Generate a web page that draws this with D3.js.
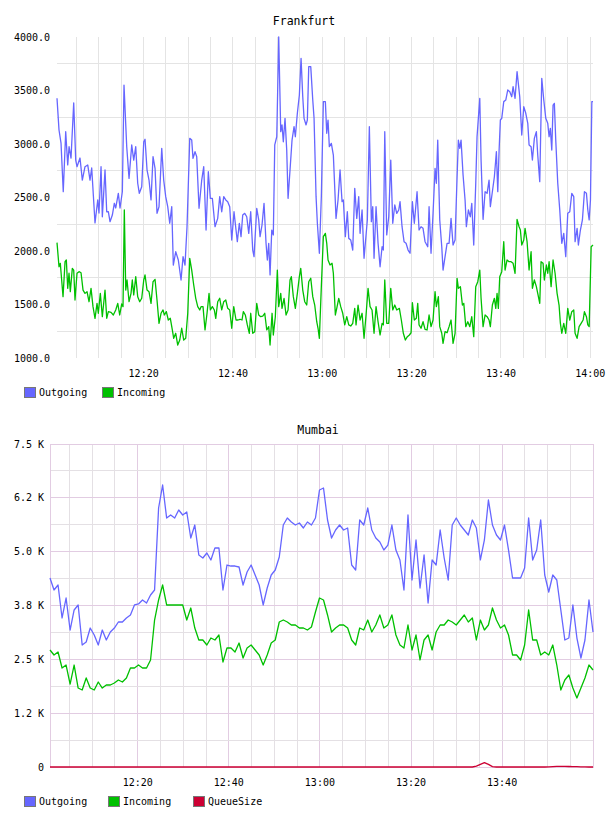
<!DOCTYPE html>
<html>
<head>
<meta charset="utf-8">
<script src="https://cdn.jsdelivr.net/npm/d3@7"></script>
<style>
body { margin: 0; background: #fff; }
svg text { font-family: "DejaVu Sans Mono", monospace; fill: #000; }
</style>
</head>
<body>
<div id="VizBox"></div>
<script>

// ---- Frankfurt (times are minutes after 12:00) ----
var frankOutTime = [0.6,1.05,1.5,2.0,2.55,3.0,3.3,3.74,4.34,4.79,5.08,5.75,6.27,6.87,7.48,7.99,8.37,9.11,9.72,10.0,
  10.46,10.75,11.35,11.73,12.09,12.47,12.99,13.43,13.75,14.33,14.71,15.23,15.6,16.21,16.73,17.33,17.78,18.23,18.67,19.03,
  19.57,20.02,20.31,20.76,21.2,21.65,22.1,22.55,22.99,23.44,24.05,24.49,24.94,25.39,25.84,26.29,26.64,27.18,27.76,28.37,
  28.82,29.26,29.71,30.32,30.76,31.05,31.5,31.88,32.4,33.0,33.45,33.97,34.48,34.93,35.38,35.98,36.58,37.03,37.48,37.93,
  38.38,38.82,39.27,39.72,
  40.23,40.68,40.97,41.42,41.8,42.18,42.63,43.08,43.53,43.97,44.42,44.71,45.32,45.76,46.06,46.5,46.95,47.4,47.69,48.0,
  48.3,48.68,49.03,49.35,49.8,50.24,50.69,50.98,51.27,51.65,52.03,52.33,52.77,53.22,53.67,53.96,54.41,54.86,55.24,55.62,
  55.91,56.36,56.65,56.96,57.41,57.86,58.15,58.6,58.89,59.34,59.78,60.23,60.68,60.99,61.28,61.57,62.02,62.47,63.07,63.52,
  63.97,64.42,64.71,65.15,65.6,65.92,66.36,66.81,67.26,67.71,68.15,68.45,68.9,69.34,69.79,70.08,70.53,70.98,71.29,71.58,
  72.03,72.48,72.93,73.38,73.66,73.98,74.42,74.87,75.32,75.77,76.22,76.66,77.11,77.4,77.85,78.3,78.75,79.2,79.64,
  80.16,80.6,81.21,81.66,82.1,82.55,83.0,83.6,83.9,84.34,84.79,85.24,85.53,85.84,86.29,86.74,87.03,87.48,87.93,88.38,
  88.82,89.27,89.72,90.17,90.46,90.77,91.06,91.51,91.96,92.25,92.7,93.14,93.46,93.9,94.35,94.64,95.25,95.54,95.99,96.44,
  96.89,97.33,97.62,98.07,98.52,98.97,99.28,99.58,99.86,100.17,100.62,101.07,101.52,101.97,102.41,102.71,103.15,103.6,104.2,104.65,
  105.1,105.55,106.0,106.29,106.74,107.03,107.47,107.92,108.23,108.68,109.13,109.58,110.03,110.47,110.77,111.05,111.37,111.66,111.95,112.26,
  112.71,113.16,113.61,114.05,114.5,114.95,115.4,115.85,116.29,116.59,117.04,117.33,117.78,118.23,118.68,119.13,119.44,119.74,120.03,120.34,
  120.6];
var frankOut = [3427,3131,3009,2554,3115,2804,2975,2869,3383,2850,2788,2869,2663,2788,2804,2663,2776,2262,2477,2355,
  2788,2320,2757,2367,2367,2274,2336,2446,2402,2539,2402,2554,3551,2975,2679,2991,2850,2975,2633,2539,
  2601,3021,3044,2757,2663,2477,2882,2773,2352,2414,2960,2663,2508,2414,2259,2414,1869,1993,1916,1729,
  1947,1869,2227,3053,3037,2866,2928,2882,2399,2663,2788,2196,2741,2492,2492,2227,2305,2508,2367,2508,
  2477,2461,2414,2103,
  2367,2196,2087,2259,2134,2336,2352,2320,2165,2367,2009,1947,2399,2290,2134,2243,2446,2072,1916,2072,
  1776,2196,2150,2991,3068,4000,3115,3178,3021,3240,2944,2492,2757,3037,3162,3068,3287,3458,3801,3442,
  3240,3178,3224,3723,3723,3411,3240,2508,2259,1979,2508,3396,3396,3100,3224,2975,3006,2897,2305,2477,
  2757,2461,2477,2134,2367,2118,2103,2009,2586,2305,2508,2165,2383,1932,2150,2290,3162,2274,2414,1932,
  2414,2072,1853,2040,2009,3115,2150,2320,2850,2259,2430,2352,2383,2461,2227,2087,2072,2009,1979,
  2461,2259,2554,2196,2227,2212,2087,2040,2414,1979,2352,2773,2633,3037,2290,2040,1822,1947,2072,2072,
  2305,2056,2103,2694,3037,2960,3037,2710,2477,2227,2383,2320,2446,2056,2633,3068,3427,2850,2296,2554,
  2539,2663,2414,2554,2694,2928,2554,2944,3224,3240,3396,3411,3505,3489,3442,3536,3427,3676,3442,3084,
  3349,3287,3193,2991,2975,2850,3053,3115,2897,2648,3614,3411,3240,3193,3068,3146,2944,3364,3380,3037,
  2633,2383,2072,2165,1947,2352,2367,2539,2508,2087,2212,2056,2196,2290,2554,2539,2383,2290,2477,3396,
  3396];

var frankInTime = [0.6,1.05,1.34,1.95,2.4,2.69,3.0,3.29,3.58,4.03,4.34,4.63,5.08,5.53,5.98,6.43,6.87,7.32,7.77,8.22,
  8.66,9.11,9.56,9.85,10.3,10.75,11.35,11.73,12.09,12.7,13.21,13.75,14.2,14.64,15.09,15.38,15.67,15.99,16.28,16.73,
  17.17,17.46,17.78,18.23,18.67,19.12,19.57,20.02,20.31,20.76,21.2,21.65,22.1,22.55,22.99,23.44,23.89,24.34,24.63,25.08,
  25.52,25.97,26.42,26.73,27.18,27.63,28.08,28.52,28.97,29.42,29.87,30.32,30.76,31.21,31.66,32.11,32.56,32.85,33.29,33.74,
  34.19,34.64,34.93,35.38,35.82,36.14,36.58,37.03,37.48,37.93,38.38,38.82,39.27,39.72,40.17,
  40.68,41.13,41.58,42.02,42.32,42.76,43.21,43.66,43.97,44.42,44.87,45.32,45.76,46.21,46.66,47.11,47.56,48.0,48.3,48.75,
  49.03,49.48,49.93,50.24,50.69,50.98,51.43,51.88,52.33,52.77,53.06,53.51,53.96,54.41,54.86,55.17,55.62,56.06,56.51,56.96,
  57.41,57.86,58.3,58.75,59.04,59.34,59.78,60.23,60.68,60.99,61.28,61.73,62.18,62.47,62.92,63.23,63.68,64.12,64.57,65.02,
  65.47,65.92,66.36,66.81,67.26,67.55,68.0,68.45,68.9,69.34,69.79,70.24,70.69,71.13,71.58,72.03,72.48,72.93,73.38,73.66,
  73.98,74.42,74.87,75.32,75.77,76.22,76.66,77.25,77.69,78.14,78.59,79.04,79.49,79.87,
  80.16,80.6,81.05,81.36,81.66,82.1,82.55,83.0,83.45,83.9,84.34,84.79,85.24,85.53,85.98,86.29,86.74,87.03,87.48,87.93,
  88.38,88.82,89.27,89.72,90.17,90.46,90.91,91.36,91.67,92.12,92.57,93.02,93.46,93.9,94.35,94.8,95.25,95.54,95.99,96.44,
  96.89,97.33,97.62,98.07,98.52,98.83,99.12,99.41,99.72,100.17,100.62,100.91,101.36,101.81,102.26,102.71,103.15,103.6,104.05,104.34,
  104.65,105.1,105.39,105.84,106.29,106.74,107.03,107.47,107.92,108.23,108.68,108.97,109.42,109.71,110.16,110.47,110.77,111.22,111.66,112.11,
  112.56,113.0,113.3,113.61,114.05,114.5,114.95,115.4,115.85,116.29,116.59,117.04,117.49,117.94,118.39,118.68,119.13,119.44,119.74,120.19,
  120.6];
var frankIn = [2078,1853,1885,1573,1900,1916,1651,1792,1620,1838,1822,1542,1792,1807,1797,1635,1604,1620,1526,1651,
  1480,1371,1511,1418,1604,1386,1635,1371,1433,1427,1402,1449,1511,1402,1505,1480,2383,1635,1729,1526,
  1604,1729,1589,1760,1573,1526,1558,1729,1776,1635,1620,1511,1713,1735,1542,1324,1418,1449,1402,1433,
  1355,1371,1262,1184,1231,1121,1168,1278,1168,1184,1418,1932,1822,1682,1558,1480,1449,1480,1480,1262,
  1418,1604,1449,1480,1449,1371,1526,1558,1449,1526,1542,1464,1449,1278,1480,
  1355,1355,1362,1355,1433,1402,1309,1231,1418,1231,1246,1511,1402,1386,1392,1418,1262,1293,1121,1418,
  1215,1386,1822,1480,1604,1464,1558,1402,1449,1729,1760,1573,1464,1604,1760,1838,1635,1526,1495,1713,
  1745,1573,1495,1339,1278,1184,1667,2134,2165,2072,1916,1869,1885,1792,1402,1464,1558,1480,1418,1309,
  1386,1309,1299,1324,1464,1309,1495,1355,1418,1184,1402,1651,1480,1449,1231,1480,1339,1215,1324,1309,
  1729,1324,1324,1651,1449,1495,1449,1464,1355,1231,1168,1199,1215,1236,
  1517,1355,1371,1511,1309,1278,1339,1268,1262,1402,1293,1355,1620,1480,1573,1293,1231,1137,1246,1236,
  1293,1355,1137,1231,1745,1651,1667,1495,1511,1293,1339,1293,1386,1199,1667,1713,1822,1558,1293,1402,
  1386,1355,1293,1495,1558,1464,1604,1464,1760,1807,2087,1822,1916,1900,1900,1885,1792,2296,2227,2196,
  2056,2103,2212,2087,1822,1993,1651,1729,1667,1604,1511,1900,1885,1729,1869,1792,1900,1667,1916,1792,
  1604,1495,1324,1231,1324,1231,1464,1355,1433,1449,1231,1184,1293,1324,1355,1433,1386,1309,1293,2040,
  2056];

var frankYTicks = [1000, 1500, 2000, 2500, 3000, 3500, 4000];
var frankYGrid = [1250, 1750, 2250, 2750, 3250, 3750];

// ---- Mumbai (one sample per step across the window) ----
var mumbaiOut = [4388,4110,4226,3460,3924,3181,3646,3762,2833,2902,3227,3065,2833,3181,2949,3135,3227,3367,3367,3460,
  3530,3762,3785,3878,3808,3994,4110,6014,6548,5782,5852,5782,5968,5852,5921,5317,5619,4923,4853,4969,
  4807,5085,5085,4110,4690,4667,4667,4644,4226,4528,4690,4458,4226,3762,4156,4458,4574,4876,5619,5782,
  5689,5619,5666,5550,5689,5619,5782,6432,6478,5735,5317,5503,5619,5503,5550,4690,4574,5735,5619,6014,
  5503,5317,5224,5038,5154,5619,5038,4807,4110,5852,4342,5271,4156,4923,3808,4807,4690,5503,4853,4342,
  5619,5782,5619,5503,5387,5735,5550,4807,5271,6200,5619,5387,5271,5619,5038,4388,4388,4388,4621,5782,
  4807,5038,5735,4458,4063,4458,4342,3646,2949,2995,3762,2995,2531,2949,3878,3135];
var mumbaiIn = [2717,2601,2670,2299,2368,1927,2368,1834,1788,2067,1834,1788,1974,1834,1904,1904,1950,2020,1974,2067,
  2299,2299,2368,2299,2299,2485,3413,3878,4226,3762,3762,3762,3762,3762,3413,3692,3227,2949,2949,2833,
  2995,2949,3065,2438,2763,2763,2670,2879,2531,2763,2833,2717,2601,2368,2601,2879,2949,3367,3413,3367,
  3297,3297,3227,3227,3181,3250,3599,3924,3878,3530,3135,3227,3297,3297,3227,2949,2833,3227,3181,3413,
  3135,3297,3530,3227,3297,3530,3065,2833,2763,3297,2717,3065,2485,2949,3065,2717,3135,3297,3297,3413,
  3367,3297,3413,3530,3367,3460,2949,3413,3181,3297,3692,3413,3227,3297,3065,2601,2601,2485,2833,3646,
  2949,2949,2601,2670,2601,2833,2368,1788,2020,2136,1834,1602,1834,2067,2368,2252];
var mumbaiQueue = [0,0,0,0,0,0,0,0,0,0,0,0,0,0,0,0,0,0,0,0,
  0,0,0,0,0,0,0,0,0,0,0,0,0,0,0,0,0,0,0,0,
  0,0,0,0,0,0,0,0,0,0,0,0,0,0,0,0,0,0,0,0,
  0,0,0,0,0,0,0,0,0,0,0,0,0,0,0,0,0,0,0,0,
  0,0,0,0,0,0,0,0,0,0,0,0,0,0,0,0,0,0,0,0,
  0,0,0,0,0,0,20,60,100,60,10,0,0,0,0,0,0,0,0,0,
  0,0,0,0,5,10,15,15,15,12,10,8,5,3,0,0];

var mumbaiYTicks = [0, 1250, 2500, 3750, 5000, 6250, 7500];
var mumbaiYLabels = ["0", "1.2 K", "2.5 K", "3.8 K", "5.0 K", "6.2 K", "7.5 K"];
var mumbaiYGrid = [625, 1875, 3125, 4375, 5625, 6875];

var colors = {Outgoing: "#6666ff", Incoming: "#00c000", QueueSize: "#cc0033"};

var base = new Date(2000, 0, 1, 12, 0, 0);
function toDate(m) { return new Date(base.getTime() + m * 60000); }

var mumbaiStart = 0.75, mumbaiEnd = 119.95;
var mumbaiTime = mumbaiOut.map(function(d, i) {
  return mumbaiStart + i * (mumbaiEnd - mumbaiStart) / (mumbaiOut.length - 1);
});

var svg = d3.select("#VizBox")
.append("svg")
  .attr("width", 608)
  .attr("height", 816);

function drawChart(c) {
  var g = svg.append("g")
    .attr("transform", "translate(" + c.left + "," + c.top + ")");

  var x = d3.scaleTime()
    .domain([toDate(c.xDomain[0]), toDate(c.xDomain[1])])
    .range([0, c.width]);
  var y = d3.scaleLinear()
    .domain([c.yTicks[0], c.yTicks[c.yTicks.length - 1]])
    .range([c.height, 0]);

  // vertical grid, every 5 minutes
  x.ticks(d3.timeMinute.every(5)).forEach(function(t) {
    var major = t.getMinutes() % 20 == 0 && c.majorColor;
    g.append("line")
      .attr("x1", x(t)).attr("x2", x(t))
      .attr("y1", 0).attr("y2", c.height)
      .attr("stroke", major ? c.majorColor : c.minorColor)
      .attr("shape-rendering", "crispEdges");
  });

  // horizontal grid
  c.yGrid.forEach(function(v) {
    g.append("line")
      .attr("x1", 0).attr("x2", c.width)
      .attr("y1", y(v)).attr("y2", y(v))
      .attr("stroke", c.minorColor)
      .attr("shape-rendering", "crispEdges");
  });
  if (c.majorColor) {
    c.yTicks.forEach(function(v) {
      g.append("line")
        .attr("x1", 0).attr("x2", c.width)
        .attr("y1", y(v)).attr("y2", y(v))
        .attr("stroke", c.majorColor)
        .attr("shape-rendering", "crispEdges");
    });
    g.append("rect")
      .attr("x", 0).attr("y", 0)
      .attr("width", c.width).attr("height", c.height)
      .attr("fill", "none")
      .attr("stroke", c.majorColor)
      .attr("shape-rendering", "crispEdges");
  }

  // y labels
  g.selectAll(".ylab")
    .data(c.yTicks)
    .enter().append("text")
      .attr("x", c.labelX)
      .attr("y", function(d) { return y(d); })
      .attr("dy", "0.35em")
      .attr("text-anchor", "end")
      .attr("font-size", "10px")
      .text(function(d, i) { return c.yFormat(d, i); });

  // x labels
  g.selectAll(".xlab")
    .data(x.ticks(d3.timeMinute.every(20)))
    .enter().append("text")
      .attr("x", function(d) { return x(d); })
      .attr("y", c.height + 19)
      .attr("text-anchor", "middle")
      .attr("font-size", "10px")
      .text(d3.timeFormat("%H:%M"));

  // lines
  var line = d3.line()
    .x(function(d) { return x(toDate(d[0])); })
    .y(function(d) { return y(d[1]); });
  c.series.forEach(function(s) {
    g.append("path")
      .datum(d3.zip(s.time, s.values))
      .attr("fill", "none")
      .attr("stroke", colors[s.name])
      .attr("stroke-width", 1.3)
      .attr("stroke-linejoin", "round")
      .attr("d", line);
  });

  // title
  svg.append("text")
    .attr("x", c.titleX)
    .attr("y", c.titleY)
    .attr("text-anchor", "middle")
    .attr("font-size", "11.5px")
    .text(c.title);

  // legend
  var lg = svg.append("g")
    .attr("transform", "translate(24," + c.legendY + ")");
  c.series.forEach(function(s, i) {
    lg.append("rect")
      .attr("x", c.legendX[i] + 0.5).attr("y", 0.5)
      .attr("width", 11).attr("height", 10)
      .attr("fill", colors[s.name])
      .attr("stroke", "#777");
    lg.append("text")
      .attr("x", c.legendX[i] + 15)
      .attr("y", 9)
      .attr("font-size", "10px")
      .text(s.name);
  });
}

drawChart({
  title: "Frankfurt", titleX: 304, titleY: 25,
  left: 57, top: 37, width: 536, height: 321,
  xDomain: [0.6, 120.6],
  yTicks: frankYTicks, yGrid: frankYGrid,
  yFormat: d3.format(".1f"), labelX: -7,
  minorColor: "#e4e4e4", majorColor: null,
  legendY: 387, legendX: [0, 78],
  series: [
    {name: "Outgoing", time: frankOutTime, values: frankOut},
    {name: "Incoming", time: frankInTime, values: frankIn}
  ]
});

drawChart({
  title: "Mumbai", titleX: 318, titleY: 434,
  left: 50, top: 444, width: 543, height: 323,
  xDomain: [mumbaiStart, mumbaiEnd],
  yTicks: mumbaiYTicks, yGrid: mumbaiYGrid,
  yFormat: function(d, i) { return mumbaiYLabels[i]; }, labelX: -6,
  minorColor: "#e4e0e4", majorColor: "#e2cce2",
  legendY: 796, legendX: [0, 84, 169],
  series: [
    {name: "Outgoing", time: mumbaiTime, values: mumbaiOut},
    {name: "Incoming", time: mumbaiTime, values: mumbaiIn},
    {name: "QueueSize", time: mumbaiTime, values: mumbaiQueue}
  ]
});

</script>
</body>
</html>
